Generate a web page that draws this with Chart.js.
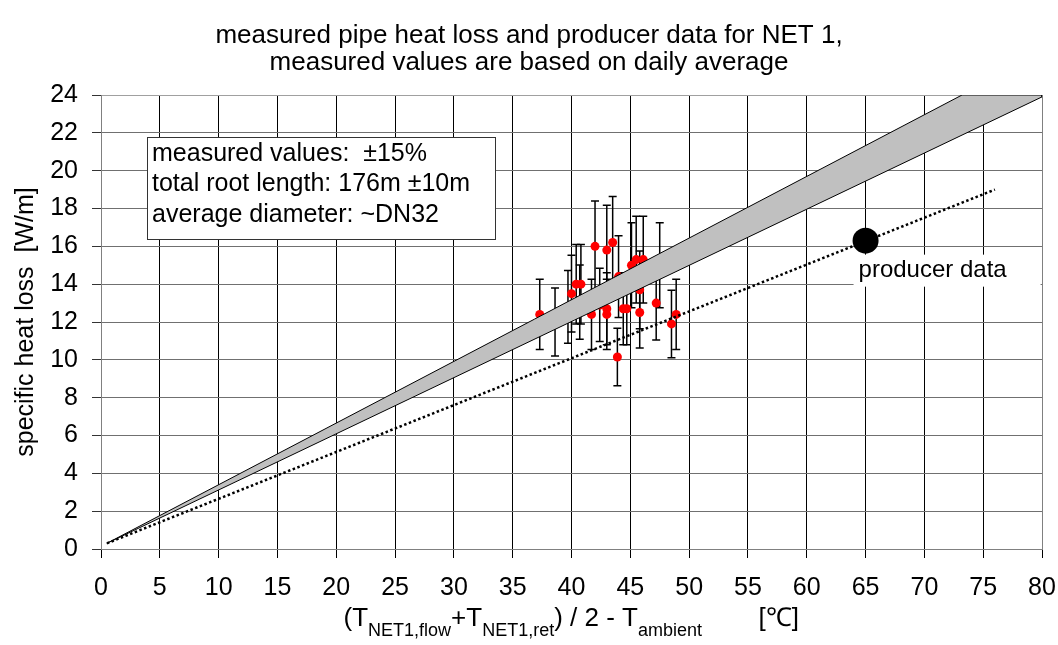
<!DOCTYPE html>
<html><head><meta charset="utf-8">
<script src="https://cdn.jsdelivr.net/npm/chart.js@4.4.1/dist/chart.umd.min.js"></script>
<style>html,body{margin:0;padding:0;background:#fff}</style>
</head><body>
<canvas id="c" width="1058" height="645"></canvas>
<script>
// ---- data ----
const measX = [37.3, 38.6, 39.7, 40.0, 40.4, 40.7, 40.8, 41.7, 42.0, 42.4, 43.0, 43.0, 43.0, 43.5, 43.9, 44.0, 44.4, 44.7, 45.1, 45.5, 45.8, 45.8, 46.1, 47.2, 47.5, 48.5, 48.9];
const measY = [12.4, 12.0, 12.8, 13.5, 14.0, 13.05, 14.0, 12.4, 16.0, 12.9, 12.7, 15.8, 12.4, 16.2, 10.15, 14.4, 12.7, 12.7, 15.0, 15.3, 13.7, 12.5, 15.3, 13.0, 15.0, 11.9, 12.4];
const errFraction = 0.15;
const bandX = [0.5, 73.2, 80, 80, 0.5];
const bandY = [0.3, 24, 24, 23.9, 0.3];
const producerLineX = [0.5, 76];
const producerLineY = [0.3, 19.0];
const producerX = [65];
const producerY = [16.3];
const xTicks = [0, 5, 10, 15, 20, 25, 30, 35, 40, 45, 50, 55, 60, 65, 70, 75, 80];
const yTicks = [0, 2, 4, 6, 8, 10, 12, 14, 16, 18, 20, 22, 24];
const titleLines = ['measured pipe heat loss and producer data for NET 1,', 'measured values are based on daily average'];
const infoLines = ['measured values:  \u00B115%', 'total root length: 176m \u00B110m', 'average diameter: ~DN32'];
const producerLabel = 'producer data';
const yTitle = 'specific heat loss  [W/m]';

const FONT = '"Liberation Sans", Arial, sans-serif';
const zip = (xs, ys) => xs.map((x, i) => ({x, y: ys[i]}));

const errorBars = {
  id: 'errorBars',
  beforeDatasetDraw(chart, args) {
    if (args.index !== 0) return;
    const {ctx, scales: {x, y}} = chart;
    ctx.save();
    ctx.strokeStyle = '#000';
    ctx.lineWidth = 1.5;
    measX.forEach((vx, i) => {
      const v = measY[i];
      const px = x.getPixelForValue(vx);
      const pt = y.getPixelForValue(v * (1 + errFraction));
      const pb = y.getPixelForValue(v * (1 - errFraction));
      ctx.beginPath();
      ctx.moveTo(px, pt); ctx.lineTo(px, pb);
      ctx.moveTo(px - 4, pt); ctx.lineTo(px + 4, pt);
      ctx.moveTo(px - 4, pb); ctx.lineTo(px + 4, pb);
      ctx.stroke();
    });
    ctx.restore();
  }
};

const overlay = {
  id: 'overlay',
  afterDraw(chart) {
    const {ctx, chartArea: ca, scales: {x, y}} = chart;
    ctx.save();
    // info box
    const bx = ca.left + 46, by = ca.top + 42, bw = 348, bh = 102;
    ctx.fillStyle = '#fff';
    ctx.fillRect(bx, by, bw, bh);
    ctx.strokeStyle = '#333';
    ctx.lineWidth = 1;
    ctx.strokeRect(bx + 0.5, by + 0.5, bw, bh);
    ctx.fillStyle = '#000';
    ctx.font = '25px ' + FONT;
    ctx.textBaseline = 'middle';
    ctx.textAlign = 'left';
    infoLines.forEach((t, i) => ctx.fillText(t, bx + 5, by + 17 + i * 30.5));
    // producer label
    const ppx = x.getPixelForValue(producerX[0]);
    const ppy = y.getPixelForValue(producerY[0]);
    ctx.fillStyle = '#fff';
    ctx.fillRect(ppx - 12, ppy + 14, 187, 32);
    ctx.fillStyle = '#000';
    ctx.font = '24px ' + FONT;
    ctx.fillText(producerLabel, ppx - 7, ppy + 30);
    // x axis title with subscripts
    const main = '26px ' + FONT, sub = '18px ' + FONT;
    const parts = [['(T', main, 0], ['NET1,flow', sub, 1], ['+T', main, 0], ['NET1,ret', sub, 1], [') / 2 - T', main, 0], ['ambient', sub, 1]];
    const mid = (ca.left + ca.right) / 2;
    let cx = mid - 228;
    const base = 626;
    ctx.textBaseline = 'alphabetic';
    parts.forEach(([t, f, s]) => {
      ctx.font = f;
      ctx.fillText(t, cx, base + (s ? 10 : 0));
      cx += ctx.measureText(t).width;
    });
    ctx.font = main;
    ctx.fillText('[\u2103]', mid + 187, base);
    ctx.restore();
  }
};

new Chart(document.getElementById('c'), {
  type: 'scatter',
  data: {
    datasets: [
      {label: 'measured', data: zip(measX, measY), order: 3, backgroundColor: '#ff0000', borderWidth: 0, pointRadius: 4.5, pointHoverRadius: 4.5},
      {label: 'producer line', data: zip(producerLineX, producerLineY), order: 2, showLine: true, pointRadius: 0, borderColor: '#000', borderWidth: 2.5, borderDash: [2.5, 2.5], fill: false},
      {label: 'band', data: zip(bandX, bandY), order: 1, showLine: true, pointRadius: 0, borderColor: '#000', borderWidth: 1, backgroundColor: '#c0c0c0', fill: 'shape', tension: 0},
      {label: 'producer data', data: zip(producerX, producerY), order: 0, backgroundColor: '#000', borderWidth: 0, pointRadius: 13, pointHoverRadius: 13}
    ]
  },
  options: {
    responsive: false,
    animation: false,
    events: [],
    layout: {padding: {left: 0, right: 0, top: 0, bottom: 0}},
    plugins: {
      legend: {display: false},
      tooltip: {enabled: false},
      title: {display: true, text: titleLines, color: '#000', font: {family: FONT, size: 26, weight: 'normal', lineHeight: 1.05}, padding: {top: 22, bottom: 18.4}}
    },
    scales: {
      x: {
        type: 'linear', min: 0, max: 80,
        afterBuildTicks: s => { s.ticks = xTicks.map(v => ({value: v})); },
        afterFit: s => { s.height = 96; s.paddingRight = 16; s.paddingLeft = 0; },
        ticks: {color: '#000', font: {family: FONT, size: 25}, padding: 15, maxRotation: 0},
        grid: {color: c => (c.tick && c.tick.value === 80) ? '#808080' : '#000', tickColor: '#000', tickLength: 9, lineWidth: 1},
        border: {color: '#808080', width: 1}
      },
      y: {
        type: 'linear', min: 0, max: 24,
        afterBuildTicks: s => { s.ticks = yTicks.map(v => ({value: v})); },
        afterFit: s => { s.width = 101; },
        ticks: {color: '#000', font: {family: FONT, size: 25}, padding: 14},
        grid: {color: c => (c.tick && c.tick.value === 24) ? '#a0a0a0' : '#707070', tickColor: '#333', tickLength: 9, lineWidth: 1},
        border: {color: '#808080', width: 1},
        title: {display: true, text: yTitle, color: '#000', font: {family: FONT, size: 25}, padding: {top: 11, bottom: 0}}
      }
    }
  },
  plugins: [errorBars, overlay]
});
</script>
</body></html>
